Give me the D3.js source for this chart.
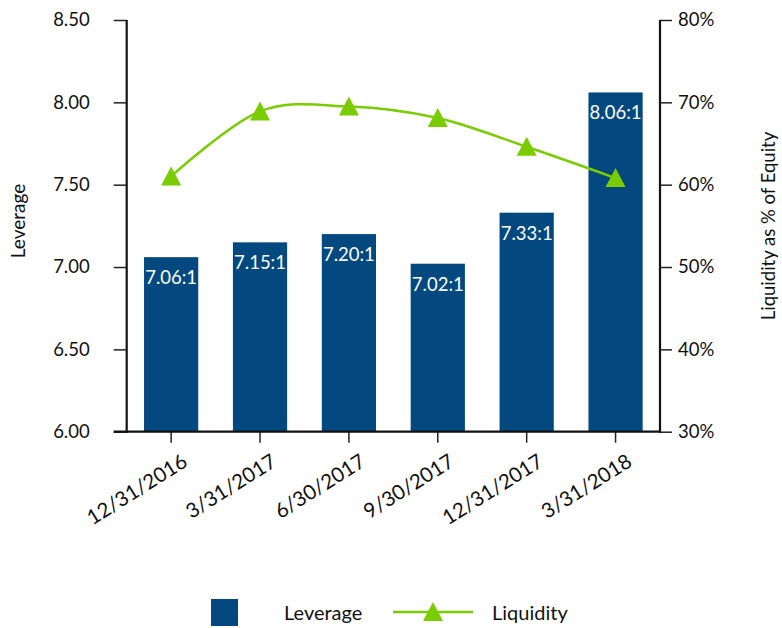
<!DOCTYPE html>
<html>
<head>
<meta charset="utf-8">
<script src="https://cdn.jsdelivr.net/npm/d3@7"></script>
<style>
  html, body { margin: 0; padding: 0; background: #fff; }
  text { font-family: Lato, "Open Sans", sans-serif; fill: #111; }
</style>
</head>
<body>
<svg id="chart" width="782" height="628"></svg>
<script>
// Quarter-end dates
const categories = ["12/31/2016", "3/31/2017", "6/30/2017", "9/30/2017", "12/31/2017", "3/31/2018"];
// Leverage ratio (x:1)
const leverage = [7.06, 7.15, 7.20, 7.02, 7.33, 8.06];
// Liquidity as % of equity
const liquidity = [61.0, 68.9, 69.5, 68.1, 64.6, 60.8];
// Axis ticks
const leftTicks = [6.0, 6.5, 7.0, 7.5, 8.0, 8.5];
const rightTicks = [30, 40, 50, 60, 70, 80];

const BAR_COLOR = "#03497f";
const LINE_COLOR = "#79cc00";

const svg = d3.select("#chart");
const plot = { left: 126.7, right: 660, top: 20, bottom: 431.7 };

const x = d3.scaleBand().domain(categories)
  .range([plot.left, plot.right]).paddingInner(0.39).paddingOuter(0.195);
const yL = d3.scaleLinear().domain([6.0, 8.5]).range([plot.bottom, plot.top]);
const yR = d3.scaleLinear().domain([30, 80]).range([plot.bottom, plot.top]);
const cx = i => x(categories[i]) + x.bandwidth() / 2;

// Bars
svg.append("g").selectAll("rect").data(leverage).join("rect")
  .attr("x", (d, i) => x(categories[i]))
  .attr("y", d => yL(d))
  .attr("width", x.bandwidth())
  .attr("height", d => yL(6.0) - yL(d))
  .attr("fill", BAR_COLOR);

// Bar value labels
svg.append("g").selectAll("text").data(leverage).join("text")
  .attr("x", (d, i) => cx(i))
  .attr("y", d => yL(d) + 27)
  .attr("text-anchor", "middle")
  .style("fill", "#fff")
  .style("font-size", "18.5px")
  .text(d => d.toFixed(2) + ":1");

// Liquidity line (smoothed)
const line = d3.line()
  .x((d, i) => cx(i))
  .y(d => yR(d))
  .curve(d3.curveCardinal.tension(0));
svg.append("path").datum(liquidity)
  .attr("d", line)
  .attr("fill", "none")
  .attr("stroke", LINE_COLOR)
  .attr("stroke-width", 2.5);

// Triangle marker, 20 wide by 19 tall, centred on the point
const tri = "M0,-10L10,9L-10,9Z";
svg.append("g").selectAll("path").data(liquidity).join("path")
  .attr("d", tri)
  .attr("transform", (d, i) => `translate(${cx(i)},${yR(d)})`)
  .attr("fill", LINE_COLOR);

// Axes
function styleAxis(g) {
  g.select(".domain").remove();
  g.selectAll(".tick line").attr("stroke", "#222").attr("stroke-width", 1.5);
  g.selectAll(".tick text").style("font-size", "18.5px").style("font-family", "Lato, sans-serif").attr("fill", "#111");
}

svg.append("g")
  .attr("transform", `translate(${plot.left},0)`)
  .call(d3.axisLeft(yL).tickValues(leftTicks).tickFormat(d3.format(".2f")).tickSize(13).tickPadding(24))
  .call(styleAxis);

svg.append("g")
  .attr("transform", `translate(${plot.right},0)`)
  .call(d3.axisRight(yR).tickValues(rightTicks).tickFormat(d => d + "%").tickSize(12).tickPadding(6))
  .call(styleAxis);

const xAxis = svg.append("g")
  .attr("transform", `translate(0,${plot.bottom})`)
  .call(d3.axisBottom(x).tickSize(11).tickPadding(6))
  .call(styleAxis);
xAxis.selectAll(".tick text")
  .style("font-size", "20.5px")
  .attr("text-anchor", "end")
  .attr("dy", "0.35em")
  .attr("transform", "translate(5,13) rotate(-32)");

// Spines
svg.append("line").attr("x1", plot.left).attr("x2", plot.left)
  .attr("y1", plot.top).attr("y2", plot.bottom + 1)
  .attr("stroke", "#111").attr("stroke-width", 2.2);
svg.append("line").attr("x1", plot.right).attr("x2", plot.right)
  .attr("y1", plot.top).attr("y2", plot.bottom + 1)
  .attr("stroke", "#111").attr("stroke-width", 2.2);
svg.append("line").attr("x1", plot.left - 13).attr("x2", plot.right + 1)
  .attr("y1", plot.bottom).attr("y2", plot.bottom)
  .attr("stroke", "#111").attr("stroke-width", 2.2);

// Axis titles
svg.append("text")
  .attr("transform", "translate(25,221) rotate(-90)")
  .attr("text-anchor", "middle")
  .style("font-size", "19px")
  .text("Leverage");
svg.append("text")
  .attr("transform", "translate(775,226) rotate(-90)")
  .attr("text-anchor", "middle")
  .style("font-size", "18.5px")
  .text("Liquidity as % of Equity");

// Legend
const legend = svg.append("g");
legend.append("rect").attr("x", 211).attr("y", 599).attr("width", 27).attr("height", 27).attr("fill", BAR_COLOR);
legend.append("text").attr("x", 284).attr("y", 620).style("font-size", "20px").text("Leverage");
legend.append("line").attr("x1", 393).attr("x2", 473).attr("y1", 612).attr("y2", 612)
  .attr("stroke", LINE_COLOR).attr("stroke-width", 2.5);
legend.append("path").attr("d", tri).attr("transform", "translate(433,612)").attr("fill", LINE_COLOR);
legend.append("text").attr("x", 492).attr("y", 620).style("font-size", "20px").text("Liquidity");
</script>
</body>
</html>
